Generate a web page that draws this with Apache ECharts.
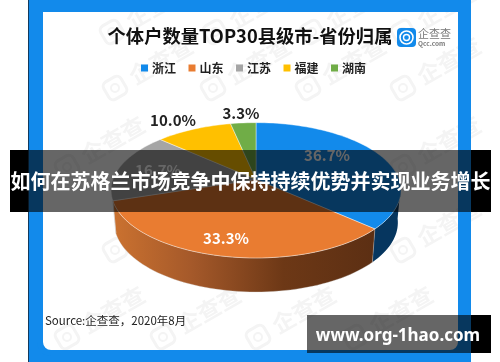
<!DOCTYPE html>
<html><head><meta charset="utf-8">
<style>html,body{margin:0;padding:0;background:#fff}#c{width:500px;height:362px}</style>
<script src="https://cdn.jsdelivr.net/npm/echarts@6/dist/echarts.min.js"></script>
</head><body><div id="c"></div>
<script>
const categories = ['浙江','山东','江苏','福建','湖南'];
const shares = [36.7,33.3,16.7,10.0,3.3];
const percentLabels = ['36.7%','33.3%','16.7%','10.0%','3.3%'];
const colors = ['#128aeb','#e97c31','#a5a5a5','#ffc000','#70ad47'];
const labelColors = ['#fff','#fff','#fff','#222','#222'];
const labelPos = [[327,155],[226,238],[158,170],[173,120],[241,113]];
const FONT = '"Noto Sans CJK SC","Noto Sans",sans-serif';

// Tilted disc projection
const CX=256, TOP={a:143,b:65.9,cy:179.4}, BOT={a:140,b:67.6,cy:211.4}, K=0.161;
function proj(deg,p){
  const t=deg*Math.PI/180, f=-Math.cos(t), w=1-K*f;
  return [CX+p.a*Math.sin(t)/w, p.cy+p.b*f/w];
}
function arc(d0,d1,p){
  const n=Math.max(2,Math.ceil(Math.abs(d1-d0)/2)), pts=[];
  for(let i=0;i<=n;i++) pts.push(proj(d0+(d1-d0)*i/n,p));
  return pts;
}
const total=shares.reduce((a,b)=>a+b,0);
const WALL_FROM=96, WALL_TO=252;
const wallFill=[
  '#06365f',
  {type:'linear',x:0,y:0,x2:1,y2:0,colorStops:[
    {offset:0,color:'#cb7230'},{offset:.3,color:'#a5592a'},{offset:.65,color:'#6d3816'},{offset:1,color:'#5c2f13'}]}
];

function makeSeries(idx){
  return {
    type:'custom', name:categories[idx], coordinateSystem:'none', silent:true,
    itemStyle:{color:colors[idx]}, z:2,
    data:[[shares[idx]]],
    renderItem(params,api){
      let before=0; for(let i=0;i<idx;i++) before+=shares[i];
      const s=before/total*360, e=(before+api.value(0))/total*360;
      const kids=[];
      const w0=Math.max(s,WALL_FROM), w1=Math.min(e,WALL_TO);
      if(w1>w0){
        kids.push({type:'polygon',shape:{points:arc(w0,w1,TOP).concat(arc(w1,w0,BOT))},
          style:{fill:wallFill[idx],stroke:'rgba(215,215,215,.55)',lineWidth:idx===0?0:.6}});
      }
      const top=[[CX,TOP.cy]].concat(arc(s,e,TOP));
      kids.push({type:'polygon',shape:{points:top},
        style:{fill:colors[idx],stroke:'rgba(255,255,255,.6)',lineWidth:.7}});
      kids.push({type:'text',x:labelPos[idx][0],y:labelPos[idx][1],
        style:{text:percentLabels[idx],fill:labelColors[idx],font:'bold 15px '+FONT,align:'center',verticalAlign:'middle'}});
      return {type:'group',children:kids};
    }
  };
}

const wmRows=[[32,[112,215,312,403]],[88,[115,213,308,403]],[167,[67,403]],[250,[115,403]],[337,[67,163,258,355]]];
const wm=[];
wmRows.forEach(([y,xs])=>xs.forEach(x=>{
  wm.push({type:'rect',z:1,shape:{x:x-10,y:y-10,width:20,height:20,r:5},rotation:Math.PI/6,originX:x,originY:y,
    style:{fill:'none',stroke:'#f4f4f4',lineWidth:3}});
  wm.push({type:'circle',z:1,shape:{cx:x,cy:y,r:4},style:{fill:'none',stroke:'#f4f4f4',lineWidth:2}});
  wm.push({type:'text',z:1,x:x+16,y:y-10,rotation:Math.PI/6,
    style:{text:'企查查',fill:'#f4f4f4',font:'bold 23px '+FONT,align:'left',verticalAlign:'middle'}});
}));

const BLUE='#128aeb';
const frame=[
  {type:'rect',z:3,shape:{x:28,y:0,width:443,height:12},style:{fill:BLUE}},
  {type:'rect',z:3,shape:{x:28,y:350,width:443,height:12},style:{fill:BLUE}},
  {type:'rect',z:3,shape:{x:28,y:0,width:15,height:362},style:{fill:BLUE}},
  {type:'rect',z:3,shape:{x:458,y:0,width:13,height:362},style:{fill:BLUE}},
  {type:'rect',z:3,shape:{x:40,y:9,width:421,height:344,r:[0,0,11,11]},style:{fill:'none',stroke:BLUE,lineWidth:6}},
  {type:'rect',z:3,shape:{x:28,y:0,width:1,height:362},style:{fill:'#123a5e'}}
];
const texts=[
  {type:'text',z:4,x:250,y:36,style:{text:'个体户数量TOP30县级市-省份归属',fill:'#111',font:'bold 18.3px '+FONT,align:'center',verticalAlign:'middle'}},
  {type:'rect',z:4,shape:{x:397,y:28,width:19,height:19,r:4},style:{fill:BLUE}},
  {type:'circle',z:4,shape:{cx:406.5,cy:37.5,r:6.5},style:{fill:'none',stroke:'#fff',lineWidth:1.6}},
  {type:'circle',z:4,shape:{cx:406.5,cy:37.5,r:3},style:{fill:'none',stroke:'#fff',lineWidth:1.4}},
  {type:'text',z:4,x:418,y:34,style:{text:'企查查',fill:'#777',font:'11px '+FONT,align:'left',verticalAlign:'middle'}},
  {type:'text',z:4,x:418,y:44,style:{text:'Qcc.com',fill:'#777',font:'bold 6.5px '+FONT,align:'left',verticalAlign:'middle'}},
  {type:'text',z:4,x:45,y:321,style:{text:'Source:企查查，2020年8月',fill:'#222',font:'11.5px '+FONT,align:'left',verticalAlign:'middle'}}
];
const overlay=[
  {type:'rect',z:50,shape:{x:28,y:150,width:443,height:62},style:{fill:'rgba(0,0,0,.6)'}},
  {type:'rect',z:50,shape:{x:10,y:150,width:18,height:62},style:{fill:'#000'}},
  {type:'rect',z:50,shape:{x:471,y:150,width:20,height:62},style:{fill:'#000'}},
  {type:'rect',z:50,shape:{x:307,y:315,width:164,height:38},style:{fill:'rgba(0,0,0,.6)'}},
  {type:'rect',z:50,shape:{x:471,y:315,width:20,height:38},style:{fill:'#000'}},
  {type:'text',z:51,x:250.5,y:181,style:{text:'如何在苏格兰市场竞争中保持持续优势并实现业务增长',fill:'#fff',font:'bold 20px '+FONT,align:'center',verticalAlign:'middle'}},
  {type:'text',z:51,x:398,y:336,style:{text:'www.org-1hao.com',fill:'#fff',font:'bold 17px "Noto Sans",sans-serif',align:'center',verticalAlign:'middle'}}
];

const chart=echarts.init(document.getElementById('c'),null,{renderer:'canvas'});
chart.setOption({
  animation:false,
  backgroundColor:'#fff',
  legend:{left:141,top:62,padding:0,itemWidth:7,itemHeight:7,itemGap:12.5,icon:'rect',z:10,
    data:categories,selectedMode:false,
    itemStyle:{},textStyle:{color:'#222',fontWeight:'bold',fontSize:12,fontFamily:FONT,padding:[0,0,0,-1]}},
  graphic:{elements:[...wm,...frame,...texts,...overlay]},
  series:categories.map((_,i)=>makeSeries(i))
});
</script></body></html>
